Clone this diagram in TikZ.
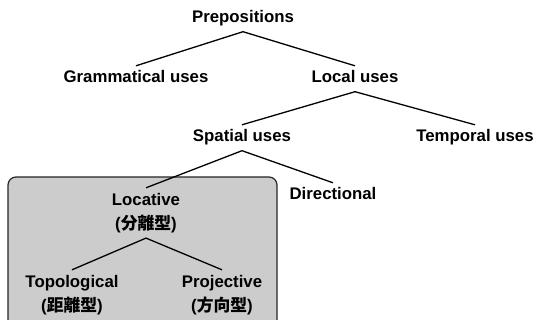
\documentclass[tikz,border=0pt]{standalone}
\usepackage{fontspec}
\setmainfont{Liberation Sans}
\newfontfamily\cjk{Noto Sans CJK JP}
\usetikzlibrary{positioning}

\begin{document}
\begin{tikzpicture}[x=1pt, y=-1pt]
			\tikzset{
				tnode/.style={anchor=base, inner sep=5pt, text height=12pt, text depth=3.5pt, font=\bfseries\fontsize{16.8}{20}\selectfont},
				jpnode/.style={tnode, anchor=north},
				branch/.style={line width=1.3pt, black},
				groupbox/.style={rounded corners=8pt, fill=black!20, draw=black!85, line width=1.2pt},
			}
			\clip (0,0) rectangle (537,320);
			\fill[white] (0,0) rectangle (537,320);
			% shaded group
			\draw[groupbox] (8,177) rectangle (277,335);

			\node[tnode] (prep) at (243,23) {Prepositions};
			\node[tnode] (gram) at (136,83) {Grammatical uses};
			\node[tnode] (local) at (355,83) {Local uses};
			\node[tnode] (spatial) at (242,142) {Spatial uses};
			\node[tnode] (temporal) at (475,142) {Temporal uses};
			\node[tnode] (directional) at (333,200) {Directional};
			\node[tnode] (locative) at (146,205) {Locative};
			\node[jpnode, below=-1.5pt of locative] (locjp) {({\cjk 分離型})};
			\node[tnode] (topo) at (72,287) {Topological};
			\node[jpnode, below=-1.5pt of topo] (topojp) {({\cjk 距離型})};
			\node[tnode] (proj) at (222,287) {Projective};
			\node[jpnode, below=-1.5pt of proj] (projjp) {({\cjk 方向型})};

			\draw[branch] (gram.north) -- (prep.south) -- (local.north);
			\draw[branch] (spatial.north) -- (local.south) -- (temporal.north);
			\draw[branch] (locative.north) -- (spatial.south) -- (directional.north);
			\draw[branch] (topo.north) -- (locjp.south) -- (proj.north);
		\end{tikzpicture}
\end{document}
